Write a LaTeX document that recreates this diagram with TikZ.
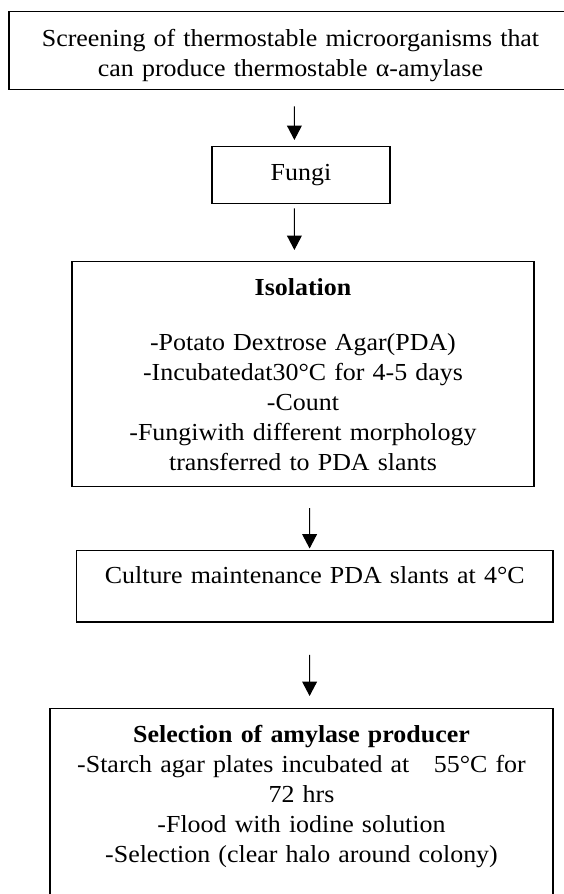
\documentclass[tikz,border=0pt]{standalone}
\usepackage{fontspec}
\setmainfont[FakeStretch=1.06]{Liberation Serif}
\usetikzlibrary{arrows.meta}

\begin{document}
\begin{tikzpicture}[
    font=\fontsize{17.4}{21.34}\selectfont,
    stage/.style={draw, line width=1pt, inner sep=0pt, align=center, anchor=north},
    flow/.style={-{Triangle[length=0.36cm,width=0.37cm]}, line width=0.8pt}
]
    \useasboundingbox (0,0) rectangle (14.075,-22.35);

    \node[stage, text width=14.075cm, text height=0.865cm, text depth=1.085cm] (screen) at (7.2625,-0.275)
        {Screening of thermostable microorganisms that\\can produce thermostable α-amylase};
    \node[stage, text width=4.45cm, text height=0.84cm, text depth=0.585cm] (fungi) at (7.525,-3.65) {Fungi};
    \node[stage, text width=11.55cm, text height=0.8625cm, text depth=4.775cm] (isol) at (7.575,-6.5125)
        {\textbf{Isolation}\\[0.625cm]-Potato Dextrose Agar(PDA)\\-Incubatedat30°C for 4-5 days\\-Count\\-Fungiwith different morphology\\transferred to PDA slants};
    \node[stage, text width=11.9125cm, text height=0.835cm, text depth=0.9525cm] (culture) at (7.869,-13.74)
        {Culture maintenance PDA slants at 4°C};
    \node[stage, text width=12.575cm, text height=0.85cm, text depth=3.95cm] (select) at (7.5375,-17.7)
        {\textbf{Selection of amylase producer}\\-Starch agar plates incubated at~~~55°C for\\72 hrs\\-Flood with iodine solution\\-Selection (clear halo around colony)};

    \draw[flow] ([xshift=0.0975cm,yshift=-0.4cm]screen.south) -- ([xshift=-0.165cm,yshift=0.15cm]fungi.north);
    \draw[flow] ([xshift=-0.165cm,yshift=-0.1cm]fungi.south) -- ([xshift=-0.215cm,yshift=0.2625cm]isol.north);
    \draw[flow] ([xshift=0.165cm,yshift=-0.5175cm]isol.south) -- ([xshift=-0.129cm,yshift=0.0275cm]culture.north);
    \draw[flow] ([xshift=-0.129cm,yshift=-0.81cm]culture.south) -- ([xshift=0.2025cm,yshift=0.3cm]select.north);
\end{tikzpicture}
\end{document}
